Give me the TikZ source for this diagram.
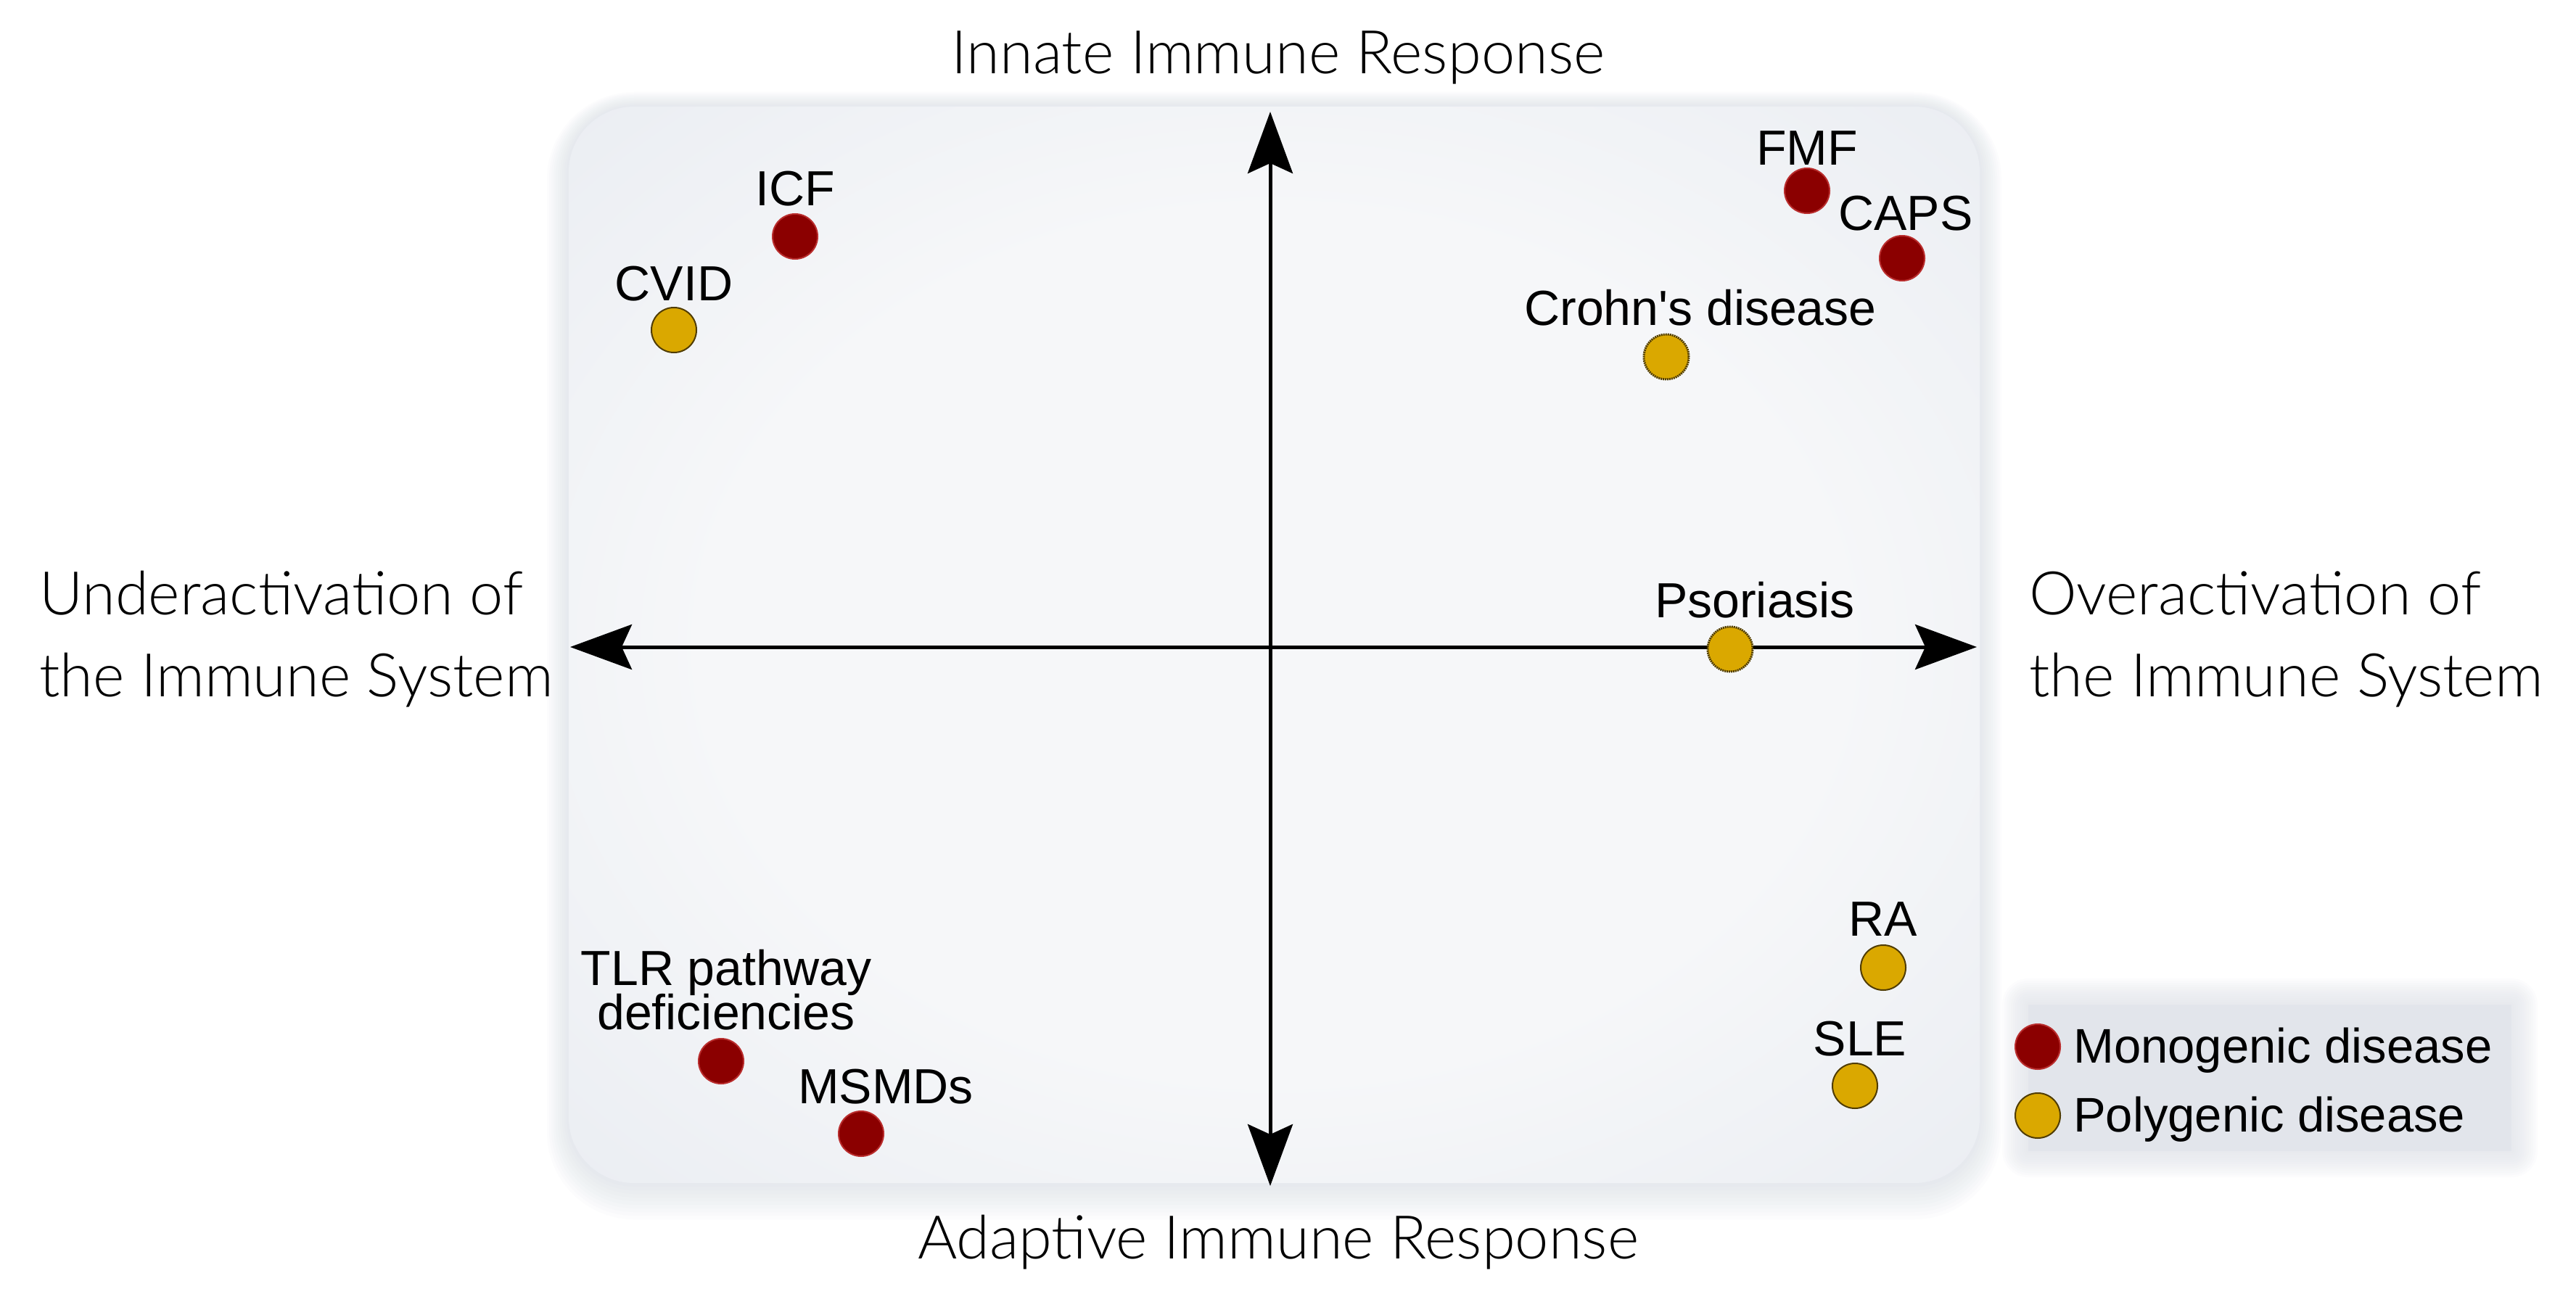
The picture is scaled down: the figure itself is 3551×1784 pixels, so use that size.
\documentclass[tikz,border=0pt]{standalone}
\usepackage{fontspec}
\setmainfont{Liberation Sans}[Ligatures=TeXOff]
\IfFontExistsTF{Lato Light}{\newfontfamily\axisfont{Lato Light}}{%
  \IfFontExistsTF{Fira Sans Light}{\newfontfamily\axisfont{Fira Sans Light}}{\newfontfamily\axisfont{Liberation Sans}}}
\usetikzlibrary{arrows.meta}
\definecolor{mono}{RGB}{139,0,0}
\definecolor{monoedge}{RGB}{185,45,45}
\definecolor{poly}{RGB}{218,168,0}
\definecolor{polyedge}{RGB}{80,60,0}
\definecolor{panelin}{RGB}{246,247,249}
\definecolor{panelmid}{RGB}{229,233,239}
\definecolor{panelout}{RGB}{196,204,218}
\definecolor{legendbg}{RGB}{226,229,235}
\pgfdeclareradialshading{panelshade}{\pgfpoint{0bp}{0bp}}{color(0bp)=(panelin); color(20bp)=(panelin); color(43bp)=(panelmid); color(62bp)=(panelout)}
\tikzset{
  dotm/.style={circle, fill=mono, draw=monoedge, line width=2pt, minimum size=62pt, inner sep=0pt},
  dotp/.style={circle, fill=poly, draw=polyedge, line width=2pt, minimum size=62pt, inner sep=0pt},
  dotpd/.style={dotp, densely dotted, line width=3pt},
  lbl/.style={font=\fontsize{68}{70}\selectfont, anchor=base, inner sep=0pt},
  leglbl/.style={font=\fontsize{67}{70}\selectfont, anchor=base west, inner sep=0pt},
  axlbl/.style={font=\axisfont\fontsize{83}{90}\selectfont, inner sep=0pt},
  axis/.style={line width=5pt, {Stealth[length=85pt,width=62pt,inset=14pt]}-{Stealth[length=85pt,width=62pt,inset=14pt]}}
}
\begin{document}
\begin{tikzpicture}[x=1pt,y=-1pt]
\useasboundingbox (0,0) rectangle (3551,1784);
\fill[white] (0,0) rectangle (3551,1784);
% panel halo
\foreach \i in {1,...,10}{
  \fill[panelout, opacity=0.045, rounded corners=90+3*\i] (784-3*\i,147-3*\i+\i) rectangle (2729+3*\i,1631+3*\i+2*\i);
}
\shade[shading=panelshade, rounded corners=90] (784,147) rectangle (2729,1631);
% legend
\foreach \i in {1,...,12}{
  \fill[legendbg, opacity=0.09, rounded corners=3*\i] (2796-3*\i,1385-3*\i) rectangle (3462+3*\i,1587+3*\i);
}
\fill[legendbg] (2796,1385) rectangle (3462,1587);
% axes
\coordinate (top) at (1751,154);
\coordinate (bottom) at (1751,1635);
\coordinate (left) at (786,892);
\coordinate (right) at (2725,892);
\draw[axis] (bottom) -- (top);
\draw[axis] (left) -- (right);
% axis labels
\node[axlbl, anchor=base] (innate) at (1762,102) {Innate Immune Response};
\node[axlbl, anchor=base] (adaptive) at (1762,1735) {Adaptive Immune Response};
\node[axlbl, anchor=base west] (under1) at (54,847) {Underactivation of};
\node[axlbl, anchor=base west] (under2) at (54,960) {the Immune System};
\node[axlbl, anchor=base west] (over1) at (2797,847) {Overactivation of};
\node[axlbl, anchor=base west] (over2) at (2797,960) {the Immune System};
% diseases
\node[dotm] (icf) at (1096,326) {};
\node[lbl] (icfl) at (1096,284) {ICF};
\node[dotp] (cvid) at (929,455) {};
\node[lbl] (cvidl) at (929,414) {CVID};
\node[dotm] (fmf) at (2491,263) {};
\node[lbl] (fmfl) at (2491,228) {FMF};
\node[dotm] (caps) at (2622,356) {};
\node[lbl] (capsl) at (2627,318) {CAPS};
\node[dotpd] (crohn) at (2297,492) {};
\node[lbl] (crohnl) at (2344,448) {Crohn's disease};
\node[dotpd] (psor) at (2385,895) {};
\node[lbl] (psorl) at (2419,851) {Psoriasis};
\node[dotp] (ra) at (2596,1334) {};
\node[lbl] (ral) at (2596,1290) {RA};
\node[dotp] (sle) at (2557,1497) {};
\node[lbl] (slel) at (2564,1455) {SLE};
\node[dotm] (tlr) at (994,1463) {};
\node[lbl] (tlrl1) at (1001,1358) {TLR pathway};
\node[lbl] (tlrl2) at (1001,1419) {deficiencies};
\node[dotm] (msmd) at (1187,1563) {};
\node[lbl] (msmdl) at (1221,1521) {MSMDs};
% legend entries
\node[dotm] (legm) at (2809,1443) {};
\node[leglbl] (legml) at (2858,1465) {Monogenic disease};
\node[dotp] (legp) at (2809,1538) {};
\node[leglbl] (legpl) at (2858,1560) {Polygenic disease};
\end{tikzpicture}
\end{document}
